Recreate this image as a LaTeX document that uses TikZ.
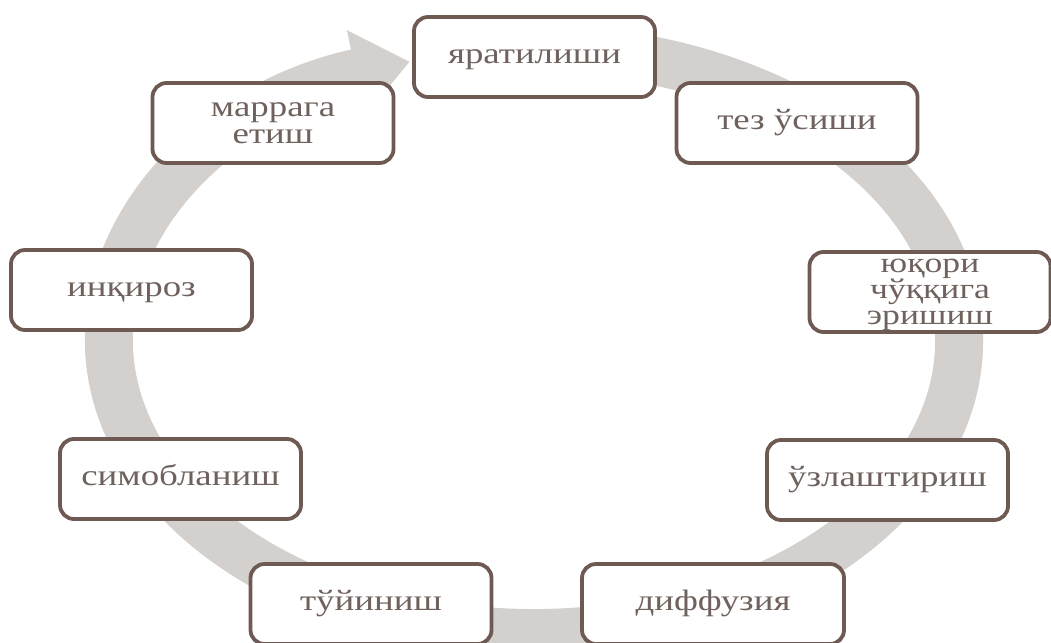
\documentclass[tikz,border=0pt]{standalone}
\usepackage{fontspec}
\setmainfont[FakeStretch=1.25]{Liberation Serif}
\usetikzlibrary{arrows.meta}
\definecolor{bandc}{HTML}{D4D0CE}
\definecolor{edgec}{HTML}{6E5A52}
\definecolor{txtc}{HTML}{6F625D}
\begin{document}
\begin{tikzpicture}[x=1pt,y=-1pt,
  stage/.style={draw=edgec, line width=3.8pt, fill=white, rounded corners=14pt,
    minimum width=241pt, minimum height=80pt, text=txtc, align=center,
    inner sep=0pt, text height=13.5pt, text depth=0pt,
    font=\fontsize{29.5}{26}\selectfont}]
\useasboundingbox (0,0) rectangle (1051,642);
\draw[bandc, line width=48pt, -{Triangle[length=55pt 0, width=84pt 0]}]
  ([shift={(534,341)}]-102:425 and 292) arc[start angle=-102, end angle=253, x radius=425, y radius=292];
\node[stage] (n1) at (534.5,57) {яратилиши};
\node[stage] (n2) at (797,123) {тез ўсиши};
\node[stage, text height=64pt, font=\fontsize{28.5}{26}\selectfont] (n3) at (930,292) {юқори\\чўққига\\эришиш};
\node[stage] (n4) at (887.5,480) {ўзлаштириш};
\node[stage, minimum width=262pt] (n5) at (713,604) {диффузия};
\node[stage] (n6) at (371,604) {тўйиниш};
\node[stage] (n7) at (180.5,479) {симобланиш};
\node[stage] (n8) at (131.5,290) {инқироз};
\node[stage, text height=40.5pt, font=\fontsize{29.5}{27}\selectfont] (n9) at (273,123) {маррага\\етиш};
\end{tikzpicture}
\end{document}
